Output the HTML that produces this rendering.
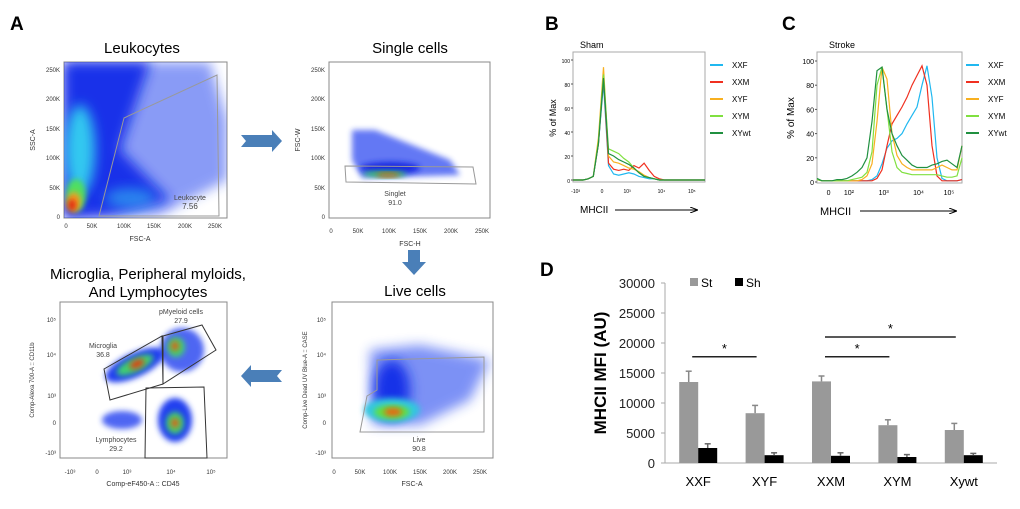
<!DOCTYPE html>
<html><head><meta charset="utf-8"><style>
body{margin:0;background:#fff;width:1020px;height:509px;overflow:hidden;font-family:"Liberation Sans",sans-serif}
svg{position:absolute;left:0;top:0}
</style></head><body>
<svg width="1020" height="509" viewBox="0 0 1020 509">
<defs>
<filter id="bl" x="-50%" y="-50%" width="200%" height="200%"><feGaussianBlur stdDeviation="6"/></filter>
<filter id="bl2" x="-50%" y="-50%" width="200%" height="200%"><feGaussianBlur stdDeviation="3"/></filter>
<marker id="ah" markerWidth="8" markerHeight="6" refX="7" refY="3" orient="auto"><path d="M0,0L8,3L0,6" fill="none" stroke="#000"/></marker>
</defs>
<g font-weight="bold" font-size="19">
<text x="10" y="30">A</text>
<text x="545" y="30">B</text>
<text x="782" y="30">C</text>
<text x="540" y="276">D</text>
</g>
<g font-size="15" text-anchor="middle">
<text x="142" y="53">Leukocytes</text>
<text x="410" y="53">Single cells</text>
<text x="415" y="296">Live cells</text>
<text x="148" y="279">Microglia, Peripheral myloids,</text>
<text x="148" y="297">And Lymphocytes</text>
</g>
<path d="M241,135 L272,135 L272,130 L282,141 L272,152 L272,147 L241,147 L246,141Z" fill="#4a7fb8"/>
<path d="M282,370 L251,370 L251,365 L241,376 L251,387 L251,382 L282,382 L277,376Z" fill="#4a7fb8"/>
<path d="M408,250 L420,250 L420,262 L426,262 L414,275 L402,262 L408,262 L408,256Z" fill="#4a7fb8"/>

<g>
<rect x="64" y="62" width="163" height="156" fill="#fff" stroke="#888"/>
<clipPath id="c1"><rect x="64" y="62" width="163" height="156"/></clipPath>
<g clip-path="url(#c1)">
<path d="M64,62 L210,62 L227,120 L227,180 L160,215 L64,218Z" fill="#2a4cf0" opacity="0.55" filter="url(#bl)"/>
<path d="M64,62 L150,62 L120,150 L170,200 L110,215 L64,218Z" fill="#0a28e8" opacity="0.9" filter="url(#bl)"/>
<ellipse cx="80" cy="150" rx="15" ry="45" fill="#30c8f0" filter="url(#bl)"/>
<ellipse cx="130" cy="198" rx="25" ry="10" fill="#30a8f0" opacity=".7" filter="url(#bl)"/>
<ellipse cx="76" cy="195" rx="10" ry="16" fill="#50e060" filter="url(#bl2)"/>
<ellipse cx="74" cy="202" rx="7" ry="10" fill="#f0a020" filter="url(#bl2)"/>
<ellipse cx="72" cy="205" rx="4" ry="6" fill="#e02010" filter="url(#bl2)"/>
</g>
<path d="M99,216 L124,118 L217,75 L219,216Z" fill="none" stroke="#999"/>
<text x="190" y="200" font-size="7" fill="#444" text-anchor="middle">Leukocyte</text>
<text x="190" y="209" font-size="8" fill="#444" text-anchor="middle">7.56</text>
<g font-size="6" fill="#333" text-anchor="end"><text x="60" y="72">250K</text><text x="60" y="101">200K</text><text x="60" y="131">150K</text><text x="60" y="160">100K</text><text x="60" y="190">50K</text><text x="60" y="219">0</text></g>
<g font-size="6" fill="#333" text-anchor="middle"><text x="66" y="228">0</text><text x="92" y="228">50K</text><text x="124" y="228">100K</text><text x="154" y="228">150K</text><text x="185" y="228">200K</text><text x="215" y="228">250K</text></g>
<text x="140" y="241" font-size="7" text-anchor="middle" fill="#333">FSC-A</text>
<text transform="translate(35,140) rotate(-90)" font-size="7" text-anchor="middle" fill="#333">SSC-A</text>
</g>

<g>
<rect x="329" y="62" width="161" height="156" fill="#fff" stroke="#888"/>
<path d="M352,130 L375,130 L450,160 L460,175 L362,178 L352,160Z" fill="#2040f0" opacity=".7" filter="url(#bl2)"/>
<ellipse cx="390" cy="168" rx="30" ry="6" fill="#1828e0" filter="url(#bl2)"/>
<ellipse cx="385" cy="174" rx="22" ry="3" fill="#30d060" filter="url(#bl2)"/>
<ellipse cx="388" cy="175" rx="12" ry="2" fill="#e06010" filter="url(#bl2)"/>
<path d="M345,166 L473,167 L476,184 L346,182Z" fill="none" stroke="#999"/>
<text x="395" y="196" font-size="7" fill="#444" text-anchor="middle">Singlet</text>
<text x="395" y="205" font-size="7" fill="#444" text-anchor="middle">91.0</text>
<g font-size="6" fill="#333" text-anchor="end"><text x="325" y="72">250K</text><text x="325" y="101">200K</text><text x="325" y="131">150K</text><text x="325" y="160">100K</text><text x="325" y="190">50K</text><text x="325" y="219">0</text></g>
<g font-size="6" fill="#333" text-anchor="middle"><text x="331" y="233">0</text><text x="358" y="233">50K</text><text x="389" y="233">100K</text><text x="420" y="233">150K</text><text x="451" y="233">200K</text><text x="482" y="233">250K</text></g>
<text x="410" y="246" font-size="7" text-anchor="middle" fill="#333">FSC-H</text>
<text transform="translate(300,140) rotate(-90)" font-size="7" text-anchor="middle" fill="#333">FSC-W</text>
</g>

<g>
<rect x="332" y="302" width="161" height="156" fill="#fff" stroke="#888"/>
<clipPath id="c2"><rect x="332" y="302" width="161" height="156"/></clipPath>
<g clip-path="url(#c2)">
<path d="M370,350 L420,345 L490,360 L470,400 L420,425 L372,425Z" fill="#2848f0" opacity=".6" filter="url(#bl)"/>
<ellipse cx="392" cy="390" rx="18" ry="30" fill="#1830e8" filter="url(#bl)"/>
<ellipse cx="392" cy="410" rx="28" ry="12" fill="#30c8e0" filter="url(#bl2)"/>
<ellipse cx="392" cy="412" rx="18" ry="7" fill="#60e040" filter="url(#bl2)"/>
<ellipse cx="393" cy="412" rx="9" ry="4" fill="#f06010" filter="url(#bl2)"/>
</g>
<path d="M367,396 L377,390 L377,360 L484,357 L484,432 L360,432Z" fill="none" stroke="#999"/>
<text x="419" y="442" font-size="7" fill="#444" text-anchor="middle">Live</text>
<text x="419" y="451" font-size="7" fill="#444" text-anchor="middle">90.8</text>
<g font-size="6" fill="#333" text-anchor="end"><text x="326" y="322">10⁵</text><text x="326" y="357">10⁴</text><text x="326" y="398">10³</text><text x="326" y="425">0</text><text x="326" y="455">-10³</text></g>
<g font-size="6" fill="#333" text-anchor="middle"><text x="334" y="474">0</text><text x="360" y="474">50K</text><text x="390" y="474">100K</text><text x="420" y="474">150K</text><text x="450" y="474">200K</text><text x="480" y="474">250K</text></g>
<text x="412" y="486" font-size="7" text-anchor="middle" fill="#333">FSC-A</text>
<text transform="translate(307,380) rotate(-90)" font-size="6" text-anchor="middle" fill="#333">Comp-Live Dead UV Blue-A :: CASE</text>
</g>

<g>
<rect x="60" y="302" width="167" height="156" fill="#fff" stroke="#888"/>
<ellipse cx="135" cy="365" rx="32" ry="12" transform="rotate(-25 135 365)" fill="#2040f0" filter="url(#bl2)"/>
<ellipse cx="135" cy="365" rx="20" ry="7" transform="rotate(-25 135 365)" fill="#40d070" filter="url(#bl2)"/>
<ellipse cx="137" cy="364" rx="8" ry="4" transform="rotate(-25 137 364)" fill="#e04010" filter="url(#bl2)"/>
<ellipse cx="182" cy="350" rx="22" ry="22" fill="#2040f0" opacity=".8" filter="url(#bl2)"/>
<ellipse cx="176" cy="347" rx="9" ry="10" fill="#40d070" filter="url(#bl2)"/>
<ellipse cx="175" cy="346" rx="4" ry="5" fill="#e06010" filter="url(#bl2)"/>
<ellipse cx="175" cy="420" rx="17" ry="22" fill="#2040f0" filter="url(#bl2)"/>
<ellipse cx="175" cy="423" rx="9" ry="11" fill="#40d070" filter="url(#bl2)"/>
<ellipse cx="175" cy="423" rx="4" ry="5" fill="#e06010" filter="url(#bl2)"/>
<ellipse cx="122" cy="420" rx="20" ry="9" fill="#2040f0" opacity=".8" filter="url(#bl2)"/>
<path d="M104,369 L162,336 L163,384 L110,400Z" fill="none" stroke="#333"/>
<path d="M163,336 L202,325 L216,350 L163,384Z" fill="none" stroke="#333"/>
<path d="M146,388 L204,387 L207,458 L145,458Z" fill="none" stroke="#333"/>
<text x="181" y="314" font-size="7" fill="#444" text-anchor="middle">pMyeloid cells</text>
<text x="181" y="323" font-size="7" fill="#444" text-anchor="middle">27.9</text>
<text x="103" y="348" font-size="7" fill="#444" text-anchor="middle">Microglia</text>
<text x="103" y="357" font-size="7" fill="#444" text-anchor="middle">36.8</text>
<text x="116" y="442" font-size="7" fill="#444" text-anchor="middle">Lymphocytes</text>
<text x="116" y="451" font-size="7" fill="#444" text-anchor="middle">29.2</text>
<g font-size="6" fill="#333" text-anchor="end"><text x="56" y="322">10⁵</text><text x="56" y="357">10⁴</text><text x="56" y="398">10³</text><text x="56" y="425">0</text><text x="56" y="455">-10³</text></g>
<g font-size="6" fill="#333" text-anchor="middle"><text x="70" y="474">-10³</text><text x="97" y="474">0</text><text x="127" y="474">10³</text><text x="171" y="474">10⁴</text><text x="211" y="474">10⁵</text></g>
<text x="143" y="486" font-size="7" text-anchor="middle" fill="#333">Comp-eF450-A :: CD45</text>
<text transform="translate(34,380) rotate(-90)" font-size="6" text-anchor="middle" fill="#333">Comp-Alexa 700-A :: CD11b</text>
</g>

<g id="panelB">
<text x="580" y="48" font-size="9">Sham</text>
<rect x="573" y="52" width="132" height="130" fill="#fff" stroke="#aaa"/>
<text transform="translate(556,118) rotate(-90)" font-size="9" text-anchor="middle">% of Max</text>
<text x="580" y="213" font-size="10">MHCII</text>
<line x1="615" y1="210" x2="697" y2="210" stroke="#000" marker-end="url(#ah)"/>
</g>
<g id="panelC">
<text x="829" y="48" font-size="9">Stroke</text>
<rect x="817" y="52" width="145" height="131" fill="#fff" stroke="#aaa"/>
<text transform="translate(794,118) rotate(-90)" font-size="10" text-anchor="middle">% of Max</text>
<text x="820" y="215" font-size="11">MHCII</text>
<line x1="860" y1="211" x2="956" y2="211" stroke="#000" marker-end="url(#ah)"/>
</g>
<g id="panelD"></g>
</svg>
<script>
const NS='http://www.w3.org/2000/svg';
function mk(p,t,a){const e=document.createElementNS(NS,t);for(const k in a)e.setAttribute(k,a[k]);p.appendChild(e);return e;}
const histSeries=['XXF','XXM','XYF','XYM','XYwt'];
const histColors=['#20b8f0','#f03020','#f8b020','#80e040','#209040'];
const shamXXF=[0,0,0,1,3,30,80,12,5,4,5,6,5,3,2,1,1,0,0,0,0,0,0,0,0,0,0];
const shamXXM=[0,0,0,1,3,30,85,14,9,8,9,8,12,10,14,8,3,1,0,0,0,0,0,0,0,0,0];
const shamXYF=[0,0,0,1,3,35,94,20,15,14,12,10,9,7,4,2,1,0,0,0,0,0,0,0,0,0,0];
const shamXYM=[0,0,0,1,3,32,88,26,24,22,18,15,10,6,3,2,1,0,0,0,0,0,0,0,0,0,0];
const shamXYwt=[0,0,0,1,3,30,85,22,20,17,15,13,10,6,3,2,1,0,0,0,0,0,0,0,0,0,0];
const strokeXXF=[2,1,1,1,1,1,1,1,1,1,1,2,5,15,28,34,36,40,48,55,62,80,96,70,20,3,1,1,1,2];
const strokeXXM=[2,1,1,1,1,1,1,1,1,1,1,1,3,10,30,48,55,62,70,80,88,96,80,30,5,1,1,1,1,2];
const strokeXYF=[2,1,1,1,1,1,1,1,1,2,5,15,50,95,85,40,22,15,12,10,10,10,10,10,12,14,12,10,10,30];
const strokeXYM=[2,1,1,1,1,1,1,2,3,4,8,25,80,95,60,25,12,8,7,6,6,6,6,6,6,5,4,4,5,20];
const strokeXYwt=[3,1,1,1,2,2,3,5,8,12,20,50,92,95,60,40,30,22,18,14,12,12,12,14,15,17,18,15,12,30];
const yTicksHist=[0,20,40,60,80,100];
function hist(gid,x0,x1,y0,y1,sets,fs,xt,legX){
  const g=document.getElementById(gid);
  const ys=v=>y0-(v/100)*(y0-y1);
  yTicksHist.forEach(t=>{const tx=mk(g,'text',{x:x0-3,y:ys(t)+3,'font-size':fs,'text-anchor':'end'});tx.textContent=t;
    mk(g,'line',{x1:x0-2,x2:x0,y1:ys(t),y2:ys(t),stroke:'#555'});});
  xt.forEach(t=>{const tx=mk(g,'text',{x:x0+t[0]*(x1-x0),y:y0+13,'font-size':fs,'text-anchor':'middle'});tx.textContent=t[1];});
  sets.forEach((s,i)=>{const n=s.length;const pts=s.map((v,j)=>(x0+j*(x1-x0)/(n-1)).toFixed(1)+','+ys(v).toFixed(1)).join(' ');
    const pl=mk(g,'polyline',{points:pts,fill:'none',stroke:histColors[i],'stroke-width':1.2});
    
    
    const ly=65+i*17;
    const ll=mk(g,'line',{x1:legX,x2:legX+13,y1:ly,y2:ly,stroke:histColors[i],'stroke-width':2});
    
    
    const lt=mk(g,'text',{x:legX+22,y:ly+3,'font-size':8});lt.textContent=histSeries[i];
    
    });
}
hist('panelB',573,705,180,60,[shamXXF,shamXXM,shamXYF,shamXYM,shamXYwt],5,[[0.02,'-10³'],[0.22,'0'],[0.41,'10³'],[0.67,'10⁴'],[0.9,'10⁵']],710);
hist('panelC',817,962,182,61,[strokeXXF,strokeXXM,strokeXYF,strokeXYM,strokeXYwt],7,[[0.08,'0'],[0.22,'10²'],[0.46,'10³'],[0.7,'10⁴'],[0.91,'10⁵']],966);

const categories=['XXF','XYF','XXM','XYM','Xywt'];
const stValues=[13500,8300,13600,6300,5500];
const stErr=[1800,1300,900,900,1100];
const shValues=[2500,1300,1200,1000,1300];
const shErr=[700,400,500,400,300];
const yTicksD=[0,5000,10000,15000,20000,25000,30000];
const sigBars=[[0,1,17700,'*'],[2,3,17700,'*'],[2,4,21000,'*']];
(function(){
 const g=document.getElementById('panelD');
 const X0=665,X1=997,Y0=463,Y1=283,ymax=30000;
 const y=v=>Y0-v/ymax*(Y0-Y1);
 const band=(X1-X0)/categories.length;
 const cx=i=>X0+band*(i+0.5);
 const bw=19;
 yTicksD.forEach(t=>{const tx=mk(g,'text',{x:X0-10,y:y(t)+5,'font-size':13,'text-anchor':'end',fill:'#222'});tx.textContent=t;
   mk(g,'line',{x1:X0-4,x2:X0,y1:y(t),y2:y(t),stroke:'#aaa'});});
 mk(g,'line',{x1:X0,x2:X0,y1:Y1,y2:Y0,stroke:'#aaa'});
 mk(g,'line',{x1:X0,x2:X1,y1:Y0,y2:Y0,stroke:'#aaa'});
 const yl=mk(g,'text',{transform:'translate(606,373) rotate(-90)','font-size':17,'font-weight':'bold','text-anchor':'middle'});yl.textContent='MHCII MFI (AU)';
 
 
 categories.forEach((c,i)=>{
  const b=mk(g,'rect',{x:cx(i)-bw,y:y(stValues[i]),width:bw,height:Y0-y(stValues[i]),fill:'#999'});
  
  
  mk(g,'line',{x1:cx(i)-bw/2,x2:cx(i)-bw/2,y1:y(stValues[i]),y2:y(stValues[i]+stErr[i]),stroke:'#888','stroke-width':1.5});
  mk(g,'line',{x1:cx(i)-bw/2-3,x2:cx(i)-bw/2+3,y1:y(stValues[i]+stErr[i]),y2:y(stValues[i]+stErr[i]),stroke:'#888','stroke-width':1.5});
  const s=mk(g,'rect',{x:cx(i),y:y(shValues[i]),width:bw,height:Y0-y(shValues[i]),fill:'#000'});
  
  
  mk(g,'line',{x1:cx(i)+bw/2,x2:cx(i)+bw/2,y1:y(shValues[i]),y2:y(shValues[i]+shErr[i]),stroke:'#666','stroke-width':1.5});
  mk(g,'line',{x1:cx(i)+bw/2-3,x2:cx(i)+bw/2+3,y1:y(shValues[i]+shErr[i]),y2:y(shValues[i]+shErr[i]),stroke:'#666','stroke-width':1.5});
  const t=mk(g,'text',{x:cx(i),y:Y0+23,'font-size':13,'text-anchor':'middle'});t.textContent=c;
  
  
 });
 sigBars.forEach(s=>{const xa=cx(s[0])-6,xb=cx(s[1])-8;
  const l=mk(g,'line',{x1:xa,x2:xb,y1:y(s[2]),y2:y(s[2]),stroke:'#222','stroke-width':1.5});
  
  
  const st=mk(g,'text',{x:(xa+xb)/2,y:y(s[2])-4,'font-size':13,'text-anchor':'middle'});st.textContent=s[3];});
 const lg=[['St','#999',690],['Sh','#000',735]];
 lg.forEach(l=>{const r=mk(g,'rect',{x:l[2],y:y(30000)-5,width:8,height:8,fill:l[1]});
  
  
  const t=mk(g,'text',{x:l[2]+11,y:y(30000)+4,'font-size':12});t.textContent=l[0];
  
  });
})();
</script>
</body></html>
